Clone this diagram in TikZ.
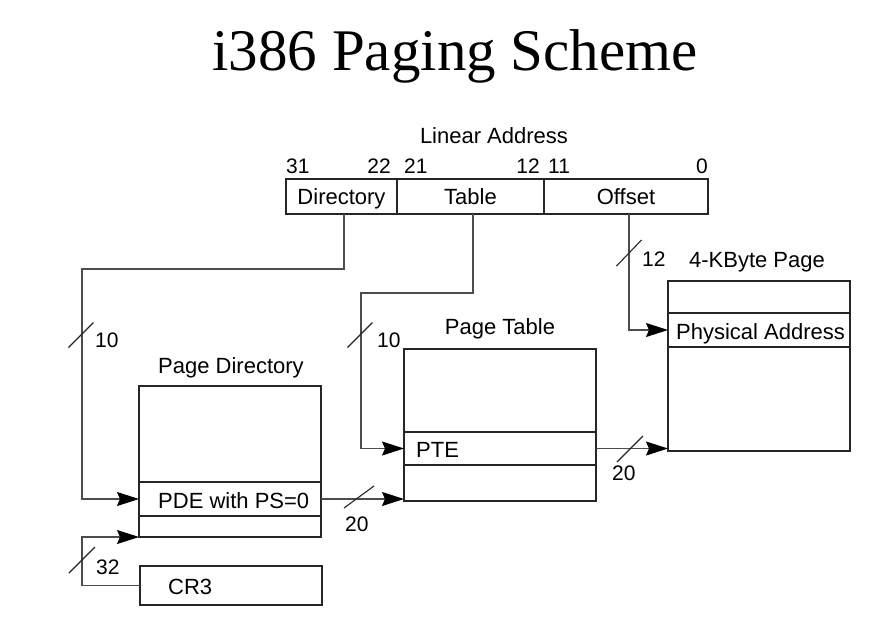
\documentclass[tikz,border=0pt]{standalone}
\usepackage{fontspec}
\setmainfont{Liberation Serif}
\setsansfont{Liberation Sans}
\usetikzlibrary{arrows.meta,calc}

\newcommand{\lblfont}{\sffamily\fontsize{22}{26}\selectfont}
\newcommand{\numfont}{\sffamily\fontsize{21}{25}\selectfont}

\tikzset{
  field/.style={draw=black!85, line width=1.3pt, rectangle, inner sep=0pt, outer sep=0pt,
    font=\lblfont, text height=15.8pt, text depth=0pt},
  rowbox/.style={draw=black!85, line width=1.1pt, rectangle, inner sep=0pt, outer sep=0pt},
  rowtext/.style={font=\lblfont, inner sep=0pt, anchor=base west},
  conn/.style={draw=black!70, line width=1.2pt},
  arr/.style={conn, -{Stealth[length=22pt,width=14pt,inset=3pt,color=black]}},
  buslbl/.style={font=\numfont, inner sep=0pt},
  caption/.style={font=\lblfont, inner sep=0pt},
}

% bus-width tick across a connector
\newcommand{\busmark}[3]{%
  \draw[black!85, line width=1.1pt] ($(#1)+(-#2,#3)$) -- ($(#1)+(#2,-#3)$);}

\begin{document}
\begin{tikzpicture}[x=1pt,y=-1pt]
\path[use as bounding box, fill=white] (0,0) rectangle (889,619);

% title
\node[font=\fontsize{59}{66}\selectfont, inner sep=0pt, anchor=base] (title) at (455,70) {i386 Paging Scheme};

% linear address
\node[caption] (lacap) at (494,136) {Linear Address};
\node[buslbl, anchor=base west] (b31) at (286,173) {31};
\node[buslbl, anchor=base east] (b22) at (391,173) {22};
\node[buslbl, anchor=base west] (b21) at (404,173) {21};
\node[buslbl, anchor=base east] (b12) at (540,173) {12};
\node[buslbl, anchor=base west] (b11) at (548,173) {11};
\node[buslbl, anchor=base east] (b0)  at (708,173) {0};

\node[field, minimum width=111pt, minimum height=35pt] (ladir) at (341.5,196.5) {Directory};
\node[field, minimum width=147pt, minimum height=35pt] (latab) at (470.5,196.5) {Table};
\node[field, minimum width=164pt, minimum height=35pt] (laoff) at (626,196.5) {Offset};

% page directory
\node[caption] (pdcap) at (231,368) {Page Directory};
\node[field, minimum width=182pt, minimum height=151pt] (pd) at (230,461.5) {};
\node[rowbox, minimum width=182pt, minimum height=34pt] (pde) at (230,499) {};
\node[rowtext] (pdetxt) at (158,508) {PDE with PS=0};

% CR3
\node[field, minimum width=182pt, minimum height=39pt] (cr3) at (231,585.5) {};
\node[rowtext] (cr3txt) at (168,594) {CR3};

% page table
\node[caption] (ptcap) at (500,329) {Page Table};
\node[field, minimum width=192pt, minimum height=152pt] (pt) at (500,425) {};
\node[rowbox, minimum width=192pt, minimum height=33pt] (pte) at (500,448.5) {};
\node[rowtext] (ptetxt) at (416,457) {PTE};

% 4-KByte page
\node[caption] (pgcap) at (757,262) {4-KByte Page};
\node[field, minimum width=182pt, minimum height=170pt] (pg) at (759,366) {};
\node[rowbox, minimum width=182pt, minimum height=34pt] (pa) at (759,330) {};
\node[rowtext] (patxt) at (676,339) {Physical Address};

% bend points
\coordinate (dirbend) at (82,269);
\coordinate (tabbend) at (361,293);
\coordinate (offbend) at (629,330);
\coordinate (crbend) at (82,537);

% connectors
\draw[arr] ([xshift=2.5pt]ladir.south) |- (dirbend) |- (pde.west);
\draw[arr] ([xshift=2.5pt]latab.south) |- (tabbend) |- (pte.west);
\draw[arr] ([xshift=3pt]laoff.south) |- (offbend) -- (offbend -| pa.west);
\draw[arr] (cr3.west) -| (crbend) -- (pd.south west);
\draw[arr] (pde.east) -- (pde.east -| pt.west);
\draw[arr] (pte.east) -- (pte.east -| pg.west);

% bus widths
\busmark{81,335}{12.5}{12.5}
\node[buslbl, anchor=base west] (w1) at (95,347) {10};
\busmark{360,335}{12.5}{12.5}
\node[buslbl, anchor=base west] (w2) at (377,347) {10};
\busmark{629,253}{12.5}{13}
\node[buslbl, anchor=base west] (w3) at (642,266) {12};
\busmark{82,560}{13}{13}
\node[buslbl, anchor=base west] (w4) at (96,574) {32};
\busmark{359,497}{15}{11}
\node[buslbl, anchor=base west] (w5) at (345,531) {20};
\busmark{630,449}{13}{13}
\node[buslbl, anchor=base west] (w6) at (612,480) {20};
\end{tikzpicture}
\end{document}
